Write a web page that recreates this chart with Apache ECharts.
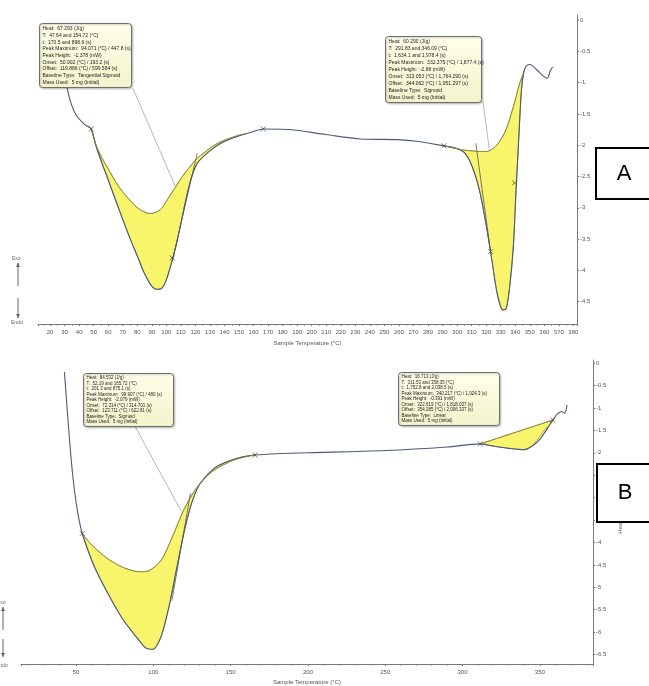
<!DOCTYPE html>
<html><head><meta charset="utf-8">
<script src="https://cdn.jsdelivr.net/npm/echarts@6/dist/echarts.min.js"></script>
<style>html,body{margin:0;padding:0;background:#fff}#c{width:649px;height:686px}</style>
</head><body><div id="c"></div><script>
// ---------- DATA (temperature °C, heat flow mW) ----------
const curveA = [[29,-0.8],[31.5,-1.06],[34,-1.30],[37.7,-1.51],[43.8,-1.67],[48.3,-1.74],[51.7,-2.02],[55.6,-2.28],[59.8,-2.54],[67.2,-3.01],[74.5,-3.46],[80.7,-3.81],[84.4,-4.02],[89.3,-4.23],[93,-4.30],[96.7,-4.29],[100,-4.15],[102.8,-3.94],[106.5,-3.62],[110,-3.25],[113.9,-2.82],[117.5,-2.50],[121.2,-2.29],[126,-2.17],[131,-2.07],[136,-1.99],[141,-1.93],[146,-1.88],[150,-1.85],[154.4,-1.82],[160,-1.78],[166.7,-1.74],[185,-1.75],[209.7,-1.83],[234,-1.9],[258.8,-1.91],[273.6,-1.94],[290.8,-2.01],[299.4,-2.05],[305.5,-2.13],[310.4,-2.34],[315.3,-2.71],[320.2,-3.3],[323.9,-3.83],[327.6,-4.37],[331.3,-4.63],[333.8,-4.61],[336.2,-4.26],[338.7,-3.62],[340.6,-2.71],[342.4,-1.91],[344.3,-1.11],[346,-0.82],[347.8,-0.73],[350.2,-0.71],[354.6,-0.79],[359.6,-0.9],[362,-0.93],[364,-0.82],[365.7,-0.75]];
const baseA1 = [[48.3,-1.74],[51.7,-2.0],[55.6,-2.2],[59.8,-2.37],[67.2,-2.66],[74.5,-2.87],[80.7,-3.01],[88,-3.09],[93,-3.07],[96.7,-3.01],[101,-2.86],[106.5,-2.66],[111,-2.5],[116.3,-2.34],[121.2,-2.21],[126,-2.12],[131,-2.03],[136,-1.96],[141,-1.91],[146,-1.87],[150,-1.84],[154.4,-1.82]];
const baseA2 = [[290.8,-2.01],[295,-2.03],[300.6,-2.06],[305,-2.08],[310.4,-2.09],[315,-2.1],[320.2,-2.1],[323,-2.08],[326.4,-2.02],[329.5,-1.93],[332.5,-1.81],[335,-1.67],[337.4,-1.49],[340,-1.28],[342.4,-1.06],[344.3,-0.93],[346,-0.82]];
const marksA = [[48.3,-1.74],[166.7,-1.74],[290.8,-2.01],[104,-3.8],[339.5,-2.6],[323,-3.7]];
const tangentA1 = [[121.2,-2.13],[104,-3.86]];
const tangentA2 = [[312.9,-1.97],[323.2,-3.73]];
const pointerA1 = [[77,-1.09],[106,-2.65]];
const pointerA2 = [[317.8,-1.3],[322.2,-2.07]];

const curveB = [[42.5,-0.2],[44,-0.9],[46,-1.8],[48,-2.55],[50,-3.1],[52,-3.5],[54,-3.8],[58,-4.2],[62,-4.55],[70,-5.1],[80,-5.7],[90,-6.15],[95,-6.35],[100,-6.38],[105,-6.1],[110,-5.45],[115,-4.6],[120,-3.75],[125,-3.1],[130,-2.7],[140,-2.33],[150,-2.17],[158,-2.09],[165.7,-2.05],[180,-2.02],[200,-2.0],[250,-1.95],[290,-1.87],[311.5,-1.8],[320,-1.85],[330,-1.9],[340,-1.93],[345,-1.85],[350,-1.7],[355,-1.45],[358.4,-1.27],[361,-1.15],[364,-1.08],[366,-1.12],[367.6,-0.93]];
const baseB1 = [[54,-3.8],[60,-4.05],[70,-4.35],[80,-4.55],[90,-4.65],[97,-4.63],[105,-4.4],[112,-3.9],[120,-3.25],[128,-2.78],[138,-2.42],[150,-2.19],[158,-2.1],[165.7,-2.05]];
const baseB2 = [[311.5,-1.8],[358.4,-1.27]];
const marksB = [[54,-3.8],[165.7,-2.05],[311.5,-1.8],[358.4,-1.27]];
const tangentB1 = [[124,-2.9],[112,-5.3]];
const pointerB1 = [[88,-1.4],[118,-3.3]];
const pointerB2 = [[355,-1.4],[345,-1.85]];

const xTicksA = {min: 11.7, max: 382.5, step: 10};
const xTicksB = {min: 14.4, max: 384.4, step: 50};
const yRangeA = {min: -4.856, max: 0.08, step: 0.5};
const yRangeB = {min: -6.71, max: 0.07, step: 0.5};

const boxA1 = ['Heat:  67.293 (J/g)','T:  47.64 and 154.72 (°C)','t:  170.5 and 898.6 (s)','Peak Maximum:  94.071 (°C) / 447.8 (s)','Peak Height:  -1.378 (mW)','Onset:  50.902 (°C) / 193.2 (s)','Offset:  119.866 (°C) / 599.584 (s)','Baseline Type:  Tangential Sigmoid','Mass Used:  5 mg (Initial)'];
const boxA2 = ['Heat:  60.290 (J/g)','T:  291.83 and 346.09 (°C)','t:  1,634.1 and 1,978.4 (s)','Peak Maximum:  332.375 (°C) / 1,877.4 (s)','Peak Height:  -2.88 (mW)','Onset:  313.053 (°C) / 1,764.290 (s)','Offset:  344.062 (°C) / 1,951.297 (s)','Baseline Type:  Sigmoid','Mass Used:  5 mg (Initial)'];
const boxB1 = ['Heat:  84.532 (J/g)','T:  52.19 and 165.72 (°C)','t:  201.3 and 875.1 (s)','Peak Maximum:  99.907 (°C) / 480 (s)','Peak Height:  -2.079 (mW)','Onset:  72.314 (°C) / 314.701 (s)','Offset:  123.711 (°C) / 622.81 (s)','Baseline Type:  Sigmoid','Mass Used:  5 mg (Initial)'];
const boxB2 = ['Heat:  16.713 (J/g)','T:  311.53 and 358.35 (°C)','t:  1,752.8 and 2,038.5 (s)','Peak Maximum:  340.217 (°C) / 1,924.3 (s)','Peak Height:  -0.391 (mW)','Onset:  322.619 (°C) / 1,818.037 (s)','Offset:  354.285 (°C) / 2,006.337 (s)','Baseline Type:  Linear','Mass Used:  5 mg (Initial)'];
const xName = 'Sample Temperature (°C)';
const yName = 'Heat Flow (mW)';

// ---------- CHART ----------
const chart = echarts.init(document.getElementById('c'));
const FONT = 'Liberation Sans';
const AX = '#7a7a7a', LB = '#555';
const LINE = '#4f5a78', FILL = '#f8f46c', FILLEDGE = '#8a8a3c';

function xAxis(gi, r) {
  return {type:'value', gridIndex: gi, min: r.min, max: r.max, splitNumber: Math.round((r.max - r.min) / r.step),
    name: xName, nameLocation: 'middle', nameGap: gi === 0 ? 16 : 15,
    nameTextStyle: {fontFamily: FONT, fontSize: 6, color: LB},
    axisLine: {onZero: false, lineStyle: {color: AX, width: 1}},
    axisTick: {show: true, length: 2, lineStyle: {color: AX}},
    minorTick: {show: true, splitNumber: gi === 0 ? 2 : 5, length: 1.5, lineStyle: {color: AX}},
    splitLine: {show: false},
    axisLabel: {fontFamily: FONT, fontSize: 6, color: LB, margin: 5, showMinLabel: false, showMaxLabel: false,
      formatter: v => (Math.abs(v / r.step - Math.round(v / r.step)) < 1e-6) ? String(Math.round(v)) : ''}};
}
function yAxis(gi, r) {
  return {type:'value', gridIndex: gi, position: 'right', min: r.min, max: r.max,
    splitNumber: Math.round((r.max - r.min) / r.step),
    name: yName, nameLocation: 'middle', nameRotate: 90, nameGap: 21,
    nameTextStyle: {fontFamily: FONT, fontSize: 6, color: LB},
    axisLine: {show: true, onZero: false, lineStyle: {color: AX, width: 1}},
    axisTick: {show: true, length: 2, lineStyle: {color: AX}},
    splitLine: {show: false},
    axisLabel: {fontFamily: FONT, fontSize: 6, color: LB, margin: 3, showMinLabel: false, showMaxLabel: false,
      formatter: v => (Math.abs(v * 2 - Math.round(v * 2)) < 1e-6) ? String(Math.round(v * 2) / 2) : ''}};
}
function fill(idx, curve, base) {
  const t1 = base[0][0], t2 = base[base.length - 1][0];
  const seg = curve.filter(p => p[0] > t1 && p[0] < t2);
  const poly = [base[0]].concat(seg, [base[base.length - 1]], base.slice().reverse());
  return {type: 'custom', xAxisIndex: idx, yAxisIndex: idx, silent: true, z: 1, clip: false,
    data: [[t1, base[0][1]]],
    renderItem: (params, api) => ({type: 'polygon',
      shape: {points: poly.map(p => api.coord(p)), smooth: 0.25},
      style: {fill: FILL, stroke: FILLEDGE, lineWidth: 0.8}})};
}
function line(idx, data, opts) {
  return Object.assign({type: 'line', xAxisIndex: idx, yAxisIndex: idx, data: data, showSymbol: false,
    silent: true, z: 3, lineStyle: {color: LINE, width: 1.1}}, opts || {});
}
function straight(idx, data, color, w) {
  return line(idx, data, {smooth: false, z: 2, lineStyle: {color: color, width: w}});
}
function marks(idx, data) {
  return {type: 'scatter', xAxisIndex: idx, yAxisIndex: idx, data: data, silent: true, z: 4,
    symbol: 'path://M0,0L10,10M10,0L0,10', symbolSize: 5,
    itemStyle: {color: 'none', borderColor: '#333', borderWidth: 0.8}};
}
function infoBox(x, y, w, h, lines, fs, lh) {
  return {type: 'group', left: x, top: y, z: 100, children: [
    {type: 'rect', z: 100, shape: {x: 0, y: 0, width: w, height: h, r: 3},
      style: {fill: new echarts.graphic.LinearGradient(0, 0, 0, 1, [{offset: 0, color: '#ffffea'}, {offset: 1, color: '#f3f3cc'}]),
        stroke: '#6f6f6f', lineWidth: 1, shadowBlur: 2, shadowColor: 'rgba(0,0,0,0.25)', shadowOffsetX: 1, shadowOffsetY: 1}},
    {type: 'text', z: 101, x: 3, y: 2, style: {text: lines.join('\n'), font: fs + 'px "' + FONT + '"', lineHeight: lh, fill: '#222'}}]};
}
function letterBox(x, y, w, h, t) {
  return {type: 'group', left: x, top: y, z: 110, children: [
    {type: 'rect', z: 110, shape: {x: 0, y: 0, width: w, height: h}, style: {fill: '#fff', stroke: '#000', lineWidth: 2}},
    {type: 'text', z: 111, x: 28, y: h / 2, style: {text: t, font: '22px "' + FONT + '"', fill: '#000', verticalAlign: 'middle', align: 'center'}}]};
}
function exoEndo(x, yExo, yA1, yA2, yB1, yB2, yEndo) {
  const c = '#666';
  return [
    {type: 'text', left: x - 6, top: yExo - 3, style: {text: 'Exo', font: '5px "' + FONT + '"', fill: c}},
    {type: 'line', shape: {x1: x, y1: yA1, x2: x, y2: yA2}, style: {stroke: c, lineWidth: 1}},
    {type: 'polygon', shape: {points: [[x - 2, yA1 + 4], [x + 2, yA1 + 4], [x, yA1]]}, style: {fill: c}},
    {type: 'line', shape: {x1: x, y1: yB1, x2: x, y2: yB2}, style: {stroke: c, lineWidth: 1}},
    {type: 'polygon', shape: {points: [[x - 2, yB2 - 4], [x + 2, yB2 - 4], [x, yB2]]}, style: {fill: c}},
    {type: 'text', left: x - 7, top: yEndo - 3, style: {text: 'Endo', font: '5px "' + FONT + '"', fill: c}}
  ];
}

const option = {
  animation: false,
  backgroundColor: '#fff',
  grid: [
    {left: 38, top: 15, width: 539, height: 309},
    {left: 21, top: 360, width: 572, height: 305}
  ],
  xAxis: [xAxis(0, xTicksA), xAxis(1, xTicksB)],
  yAxis: [yAxis(0, yRangeA), yAxis(1, yRangeB)],
  series: [
    fill(0, curveA, baseA1), fill(0, curveA, baseA2),
    line(0, curveA, {smooth: 0.3}),
    line(0, baseA1, {smooth: 0.3, lineStyle: {color: FILLEDGE, width: 0.8}}),
    line(0, baseA2, {smooth: 0.3, lineStyle: {color: FILLEDGE, width: 0.8}}),
    straight(0, tangentA1, '#555', 0.8), straight(0, tangentA2, '#555', 0.8),
    straight(0, pointerA1, '#999', 0.7), straight(0, pointerA2, '#999', 0.7),
    marks(0, marksA),
    fill(1, curveB, baseB1), fill(1, curveB, baseB2),
    line(1, curveB, {smooth: 0.3}),
    line(1, baseB1, {smooth: 0.3, lineStyle: {color: FILLEDGE, width: 0.8}}),
    line(1, baseB2, {lineStyle: {color: FILLEDGE, width: 0.8}}),
    straight(1, tangentB1, '#555', 0.8),
    straight(1, pointerB1, '#999', 0.7), straight(1, pointerB2, '#999', 0.7),
    marks(1, marksB)
  ],
  graphic: [
    infoBox(39, 23, 92, 64, boxA1, 5, 6.7),
    infoBox(385, 36, 96, 66, boxA2, 5, 6.9),
    infoBox(83, 373, 90, 53, boxB1, 4.5, 5.5),
    infoBox(398, 372, 101, 53, boxB2, 4.5, 5.5),
    letterBox(595, 147, 60, 51, 'A'),
    letterBox(596, 463, 60, 58, 'B')
  ].concat(exoEndo(18, 259, 263, 286, 298, 318, 323), exoEndo(3, 603, 607, 630, 639, 657, 666))
};
chart.setOption(option);
</script></body></html>
